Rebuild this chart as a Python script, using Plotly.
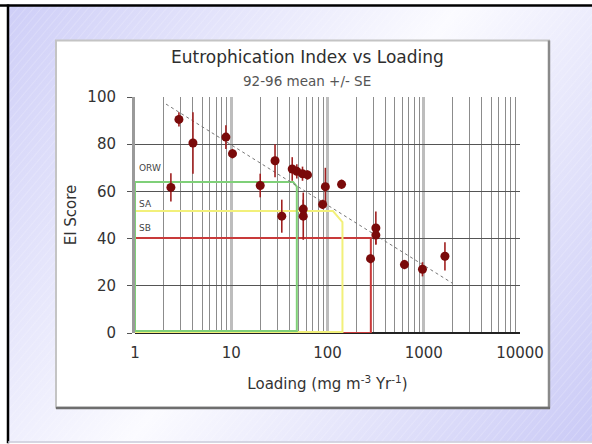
import base64
import plotly.graph_objects as go

# ---------------- data ----------------
loading = [2.36, 2.86, 4.0, 8.8, 10.3, 20, 28.5, 33.5, 43, 48, 55, 62, 56, 56,
           89, 95, 140, 280, 318, 318, 630, 970, 1660]
ei_score = [61.7, 90.5, 80.5, 83, 76, 62.5, 73, 49.5, 69.5, 68.5, 67.5, 67, 52.5, 49.5,
            54.5, 62, 63, 31.5, 44.5, 41.5, 29, 27, 32.5]
ei_se = [6, 3, 13, 5, 2, 5, 7, 7, 5, 3, 3, 2, 4, 10,
         2, 8, 2, 2, 7, 4, 2, 3, 6]

trend_x = [2.1, 2000]
trend_y = [97, 21]

# classification limits (ORW, SA, SB)
orw_x = [1, 1, 44, 48, 48, 1]
orw_y = [0.8, 64, 64, 62, 0.8, 0.8]
sa_x = [1, 1, 114, 143, 143, 1]
sa_y = [0.4, 51.7, 51.7, 47, 0.4, 0.4]
sb_x = [1, 1, 282, 282, 1]
sb_y = [0, 40.3, 40.3, 0, 0]
class_labels = ["ORW", "SA", "SB"]
class_label_y = [70, 54.5, 44.5]

x_major = [1, 10, 100, 1000, 10000]
x_major_text = ["1", "10", "100", "1000", "10000"]
x_minor = [m * d for d in (1, 10, 100, 1000) for m in range(2, 10)]
y_ticks = [0, 20, 40, 60, 80, 100]

# ---------------- geometry helpers ----------------
W, H = 592, 444
L, R, T, B = 135, 520, 96.7, 333.3


def px(xp):
    return (xp - L) / (R - L)


def py(yp):
    return (B - yp) / (B - T)


# background image (gradient + faint hatching)
svg = f"""<svg xmlns='http://www.w3.org/2000/svg' width='{W}' height='{H}' viewBox='0 0 {W} {H}' preserveAspectRatio='none'>
<defs>
<linearGradient id='g' x1='0' y1='0' x2='{W}' y2='{H}' gradientUnits='userSpaceOnUse'>
<stop offset='0' stop-color='#cdcdf7'/>
<stop offset='0.5' stop-color='#fbfbff'/>
<stop offset='1' stop-color='#cacaf6'/>
</linearGradient>
<pattern id='p' width='6' height='6' patternUnits='userSpaceOnUse' patternTransform='rotate(40)'>
<line x1='0' y1='0' x2='0' y2='6' stroke='#ffffff' stroke-width='1' stroke-opacity='0.35'/>
</pattern>
</defs>
<rect x='0' y='0' width='{W}' height='{H}' fill='#ffffff'/>
<rect x='7' y='4' width='{W - 7}' height='{H - 6}' fill='url(#g)'/>
<rect x='7' y='4' width='{W - 7}' height='{H - 6}' fill='url(#p)'/>
<line x1='0' y1='5' x2='{W}' y2='5' stroke='#000' stroke-width='2.5'/>
<line x1='8' y1='4' x2='8' y2='{H}' stroke='#000' stroke-width='2.5'/>
<line x1='8' y1='{H - 1.5}' x2='{W}' y2='{H - 1.5}' stroke='#c8c8d8' stroke-width='1.5'/>
</svg>"""
svg_uri = "data:image/svg+xml;base64," + base64.b64encode(svg.encode()).decode()

FONT = "DejaVu Sans"

fig = go.Figure()

# classification boxes
fig.add_trace(go.Scatter(x=sb_x, y=sb_y, mode="lines", line=dict(color="#c83a3a", width=2),
                         hoverinfo="skip", showlegend=False))
fig.add_trace(go.Scatter(x=sa_x, y=sa_y, mode="lines", line=dict(color="#f2f07a", width=2),
                         hoverinfo="skip", showlegend=False))
fig.add_trace(go.Scatter(x=orw_x, y=orw_y, mode="lines", line=dict(color="#7fd078", width=2),
                         hoverinfo="skip", showlegend=False))

# trend line
fig.add_trace(go.Scatter(x=trend_x, y=trend_y, mode="lines",
                         line=dict(color="#777777", width=1, dash="dot"),
                         hoverinfo="skip", showlegend=False))

# data points with SE
fig.add_trace(go.Scatter(
    x=loading, y=ei_score, mode="markers",
    marker=dict(color="#7a0a0a", size=9, line=dict(width=0)),
    error_y=dict(type="data", array=ei_se, visible=True, color="#a02020", thickness=1.6, width=0),
    showlegend=False))

annotations = [
    dict(text="Eutrophication Index vs Loading", xref="paper", yref="paper",
         x=px(307), y=py(57), showarrow=False, xanchor="center", yanchor="middle",
         font=dict(family=FONT, size=17, color="#2e2e2e")),
    dict(text="92-96 mean +/- SE", xref="paper", yref="paper",
         x=px(307), y=py(81), showarrow=False, xanchor="center", yanchor="middle",
         font=dict(family=FONT, size=13.5, color="#555555")),
]
for lab, ly in zip(class_labels, class_label_y):
    annotations.append(dict(text=lab, xref="paper", yref="y", x=px(137), y=ly,
                            showarrow=False, xanchor="left", yanchor="middle",
                            font=dict(family=FONT, size=9, color="#444444")))

shapes = [
    # white chart panel
    dict(type="rect", xref="paper", yref="paper", x0=px(56), x1=px(549), y0=py(408), y1=py(40),
         fillcolor="white", line=dict(color="#c4c4c4", width=2), layer="below"),
    dict(type="line", xref="paper", yref="paper", x0=px(549), x1=px(549), y0=py(409), y1=py(40),
         line=dict(color="#8a8a8a", width=2.5), layer="below"),
    dict(type="line", xref="paper", yref="paper", x0=px(56), x1=px(550), y0=py(408.5), y1=py(408.5),
         line=dict(color="#6e6e6e", width=2.5), layer="below"),
]

fig.update_layout(
    width=W, height=H,
    margin=dict(l=L, r=W - R, t=T, b=H - B, pad=0),
    paper_bgcolor="white",
    plot_bgcolor="rgba(0,0,0,0)",
    images=[dict(source=svg_uri, xref="paper", yref="paper", x=px(0), y=py(0),
                 sizex=px(W) - px(0), sizey=py(0) - py(H), sizing="stretch",
                 xanchor="left", yanchor="top", layer="below")],
    shapes=shapes,
    annotations=annotations,
    font=dict(family=FONT, color="#333333"),
    xaxis=dict(
        type="log", range=[0, 4],
        tickvals=x_major, ticktext=x_major_text,
        showgrid=True, gridcolor="#bdbdbd", gridwidth=2.5,
        minor=dict(tickvals=x_minor, showgrid=True, gridcolor="#8c8c8c", gridwidth=1, ticks=""),
        showline=False, zeroline=False, ticks="",
        ticklabelstandoff=9,
        tickfont=dict(family=FONT, size=15, color="#333333"),
        title=dict(text="Loading (mg m<sup>-3</sup> Yr<sup>-1</sup>)",
                   font=dict(family=FONT, size=15, color="#333333"), standoff=17),
    ),
    yaxis=dict(
        range=[0, 100], tickvals=y_ticks,
        showgrid=True, gridcolor="#555555", gridwidth=1,
        zeroline=True, zerolinecolor="#222222", zerolinewidth=2,
        showline=True, linecolor="#9a9a9a", linewidth=3,
        ticks="outside", ticklen=5, tickcolor="#555555", tickwidth=1,
        ticklabelstandoff=8,
        tickfont=dict(family=FONT, size=15, color="#333333"),
        title=dict(text="EI Score", font=dict(family=FONT, size=15, color="#333333"), standoff=8),
    ),
)

fig.write_html(
    "out.html",
    config={"displayModeBar": False},
    post_script="document.body.style.margin='0';document.body.style.overflow='hidden';",
)
